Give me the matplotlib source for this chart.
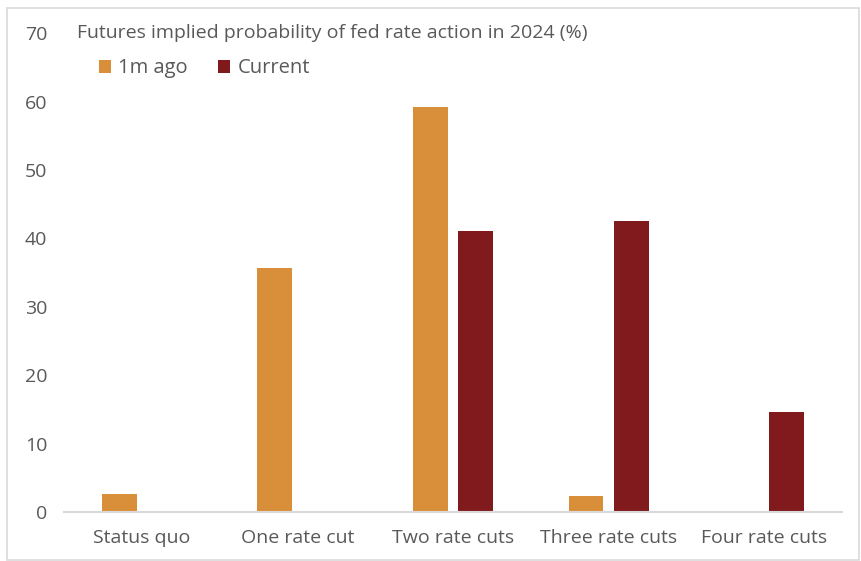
import matplotlib.pyplot as plt
import matplotlib.patches as mpatches
import numpy as np

categories = ["Status quo", "One rate cut", "Two rate cuts", "Three rate cuts", "Four rate cuts"]
month_ago = [2.7, 35.7, 59.2, 2.4, 0.0]
current = [0.0, 0.0, 41.1, 42.6, 14.6]

C_AGO = "#D98E3A"
C_CUR = "#811A1C"
TXT = "#595959"

plt.rcParams["font.family"] = ["Open Sans", "DejaVu Sans"]

fig = plt.figure(figsize=(8.61, 5.61), dpi=100)
ax = fig.add_axes([0.0743, 0.0873, 0.9037, 0.8537])

x = np.arange(len(categories))
w = 0.224
off = 0.145
ax.bar(x - off, month_ago, w, color=C_AGO, label="1m ago", zorder=2)
ax.bar(x + off, current, w, color=C_CUR, label="Current", zorder=2)

ax.set_xlim(-0.5, len(categories) - 0.5)
ax.set_ylim(0, 70)
ax.set_yticks(range(0, 71, 10))
ax.set_xticks(x)
ax.set_xticklabels(categories)
ax.tick_params(axis="both", length=0, labelsize=14, colors=TXT)
ax.tick_params(axis="x", pad=12)
ax.tick_params(axis="y", pad=12)
for s in ["top", "right", "left"]:
    ax.spines[s].set_visible(False)
ax.spines["bottom"].set_color("#d9d9d9")
ax.spines["bottom"].set_linewidth(1.5)

ax.text(0.017, 1.0, "Futures implied probability of fed rate action in 2024 (%)",
        transform=ax.transAxes, ha="left", va="center", fontsize=14, color=TXT)
ax.legend(loc="upper left", bbox_to_anchor=(0.022, 0.985), ncol=2, frameon=False,
          fontsize=14.5, labelcolor=TXT, handlelength=0.6, handleheight=0.6,
          handletextpad=0.35, columnspacing=1.5)

# light frame round the whole chart
fig.patches.append(mpatches.Rectangle((7 / 861, 0.002), 1 - 7 / 861 - 0.002, 1 - 8 / 561 - 0.002,
                                      transform=fig.transFigure, fill=False,
                                      ec="#d9d9d9", lw=1.2))

fig.savefig("out.png", dpi=100)
